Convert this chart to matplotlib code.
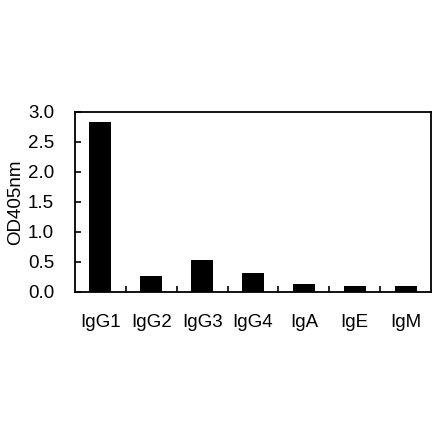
import matplotlib
matplotlib.use("Agg")
import matplotlib.pyplot as plt
import numpy as np

categories = ["IgG1", "IgG2", "IgG3", "IgG4", "IgA", "IgE", "IgM"]
values = [2.84, 0.27, 0.54, 0.31, 0.14, 0.105, 0.105]
yticks = [0.0, 0.5, 1.0, 1.5, 2.0, 2.5, 3.0]

plt.rcParams['font.family'] = ['Liberation Sans', 'DejaVu Sans']

fig = plt.figure(figsize=(4.4, 4.41), dpi=100)
ax = fig.add_axes([75/440, 1-292/441, (431-75)/440, (292-112)/441])

x = np.arange(len(categories))
ax.bar(x, values, width=0.43, color='black')
ax.set_xlim(-0.5, len(categories)-0.5)
ax.set_ylim(0, 3.0)
ax.set_yticks(yticks)
ax.set_yticklabels([f"{v:.1f}" for v in yticks], fontsize=13.5)
ax.set_xticks(x)
ax.set_xticklabels(categories, fontsize=13.5)
ax.tick_params(axis='x', length=0, pad=16)
ax.set_xticks(np.arange(len(categories)-1)+0.5, minor=True)
ax.tick_params(axis='x', which='minor', direction='in', length=4, width=1.2)
ax.tick_params(axis='y', direction='in', length=4, width=1.2, pad=15)
ax.set_ylabel("OD405nm", fontsize=13.5, labelpad=3)
for s in ax.spines.values():
    s.set_linewidth(1.3)

fig.savefig("out.png", dpi=100)
